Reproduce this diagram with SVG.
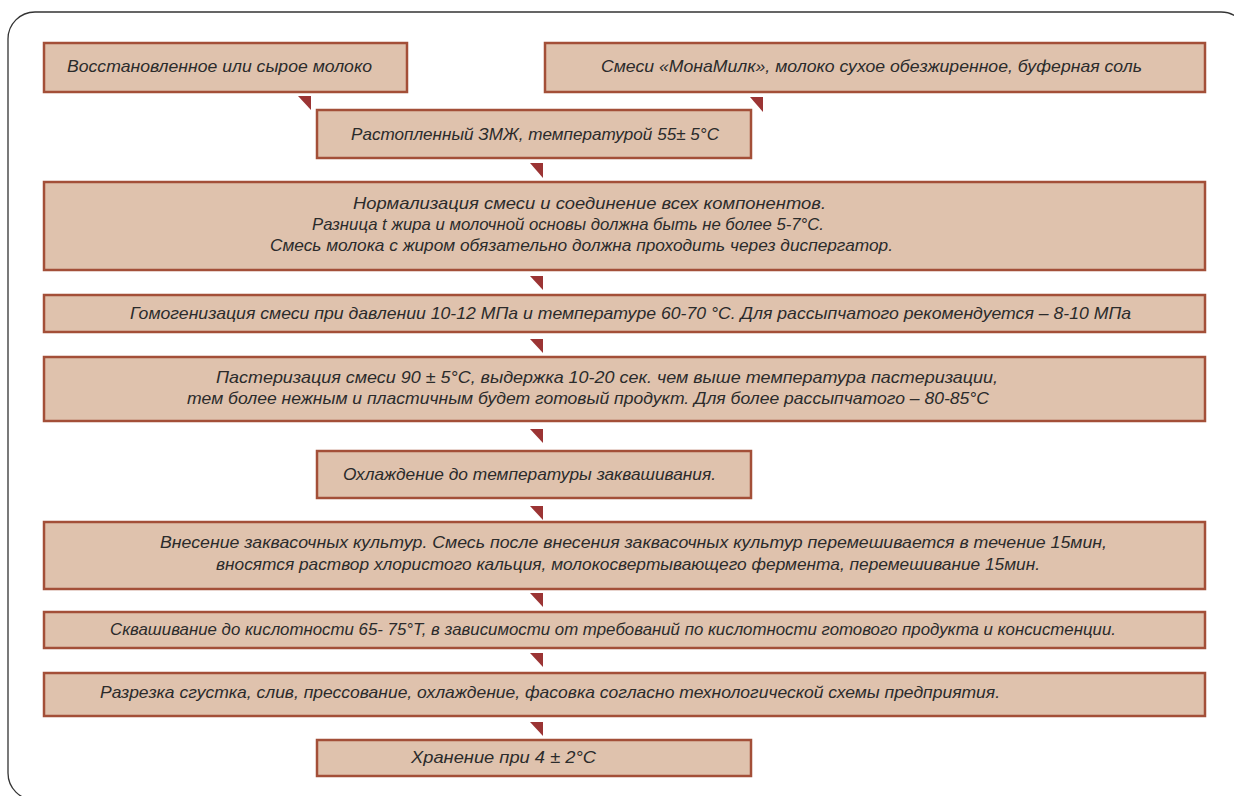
<svg xmlns="http://www.w3.org/2000/svg" width="1234" height="796" viewBox="0 0 1234 796">
<style>
.box{fill:#dfc2ad;stroke:#a34f38;stroke-width:2.5}
.t{font-family:"Liberation Sans","Arial",sans-serif;font-style:italic;font-size:16.5px;fill:#2b2b2b}
.arr{fill:#9b3434}
</style>
<rect x="8" y="12" width="1240" height="788" rx="27" ry="27" fill="#fff" stroke="#333" stroke-width="1.3"/>
<g id="connectors">
<polygon class="arr" points="298,96 311,96 311,110"/>
<polygon class="arr" points="750,97 763,97 763,112"/>
<polygon class="arr" points="530,163 543,163 543,178"/>
<polygon class="arr" points="530,276 543,276 543,290"/>
<polygon class="arr" points="530,339 543,339 543,353"/>
<polygon class="arr" points="530,429 543,429 543,443"/>
<polygon class="arr" points="530,506 543,506 543,520"/>
<polygon class="arr" points="530,593 543,593 543,607"/>
<polygon class="arr" points="530,653 543,653 543,667"/>
<polygon class="arr" points="530,722 543,722 543,736"/>
</g>
<g id="n1"><rect class="box" x="44" y="43" width="363" height="49"/>
<text class="t" x="67" y="72" textLength="305" lengthAdjust="spacingAndGlyphs">Восстановленное или сырое молоко</text></g>
<g id="n2"><rect class="box" x="545" y="43" width="660" height="49"/>
<text class="t" x="601" y="72" textLength="541" lengthAdjust="spacingAndGlyphs">Смеси «МонаМилк», молоко сухое обезжиренное, буферная соль</text></g>
<g id="n3"><rect class="box" x="317" y="110" width="434" height="48"/>
<text class="t" x="351" y="140" textLength="368" lengthAdjust="spacingAndGlyphs">Растопленный ЗМЖ, температурой 55± 5°С</text></g>
<g id="n4"><rect class="box" x="44" y="182" width="1161" height="88"/>
<text class="t" x="353" y="209" textLength="473" lengthAdjust="spacingAndGlyphs">Нормализация смеси и соединение всех компонентов.</text>
<text class="t" x="312" y="230" textLength="512" lengthAdjust="spacingAndGlyphs">Разница t жира и молочной основы должна быть не более 5-7°С.</text>
<text class="t" x="270" y="251" textLength="623" lengthAdjust="spacingAndGlyphs">Смесь молока с жиром обязательно должна проходить через диспергатор.</text></g>
<g id="n5"><rect class="box" x="44" y="295" width="1161" height="37"/>
<text class="t" x="130" y="319" textLength="1001" lengthAdjust="spacingAndGlyphs">Гомогенизация смеси при давлении 10-12 МПа и температуре 60-70 °С. Для рассыпчатого рекомендуется – 8-10 МПа</text></g>
<g id="n6"><rect class="box" x="44" y="357" width="1161" height="64"/>
<text class="t" x="216" y="383" textLength="782" lengthAdjust="spacingAndGlyphs">Пастеризация смеси 90 ± 5°С, выдержка 10-20 сек. чем выше температура пастеризации,</text>
<text class="t" x="187" y="404" textLength="802" lengthAdjust="spacingAndGlyphs">тем более нежным и пластичным будет готовый продукт. Для более рассыпчатого – 80-85°С</text></g>
<g id="n7"><rect class="box" x="317" y="451" width="434" height="47"/>
<text class="t" x="343" y="480" textLength="373" lengthAdjust="spacingAndGlyphs">Охлаждение до температуры заквашивания.</text></g>
<g id="n8"><rect class="box" x="44" y="522" width="1161" height="67"/>
<text class="t" x="160" y="548" textLength="947" lengthAdjust="spacingAndGlyphs">Внесение заквасочных культур. Смесь после внесения заквасочных культур перемешивается в течение 15мин,</text>
<text class="t" x="216" y="570" textLength="824" lengthAdjust="spacingAndGlyphs">вносятся раствор хлористого кальция, молокосвертывающего фермента, перемешивание 15мин.</text></g>
<g id="n9"><rect class="box" x="44" y="612" width="1161" height="36"/>
<text class="t" x="110" y="635" textLength="1006" lengthAdjust="spacingAndGlyphs">Сквашивание до кислотности 65- 75°Т, в зависимости от требований по кислотности готового продукта и консистенции.</text></g>
<g id="n10"><rect class="box" x="44" y="673" width="1161" height="43"/>
<text class="t" x="100" y="698" textLength="900" lengthAdjust="spacingAndGlyphs">Разрезка сгустка, слив, прессование, охлаждение, фасовка согласно технологической схемы предприятия.</text></g>
<g id="n11"><rect class="box" x="317" y="740" width="434" height="36"/>
<text class="t" x="411" y="763" textLength="185" lengthAdjust="spacingAndGlyphs">Хранение при 4 ± 2°С</text></g>
</svg>
